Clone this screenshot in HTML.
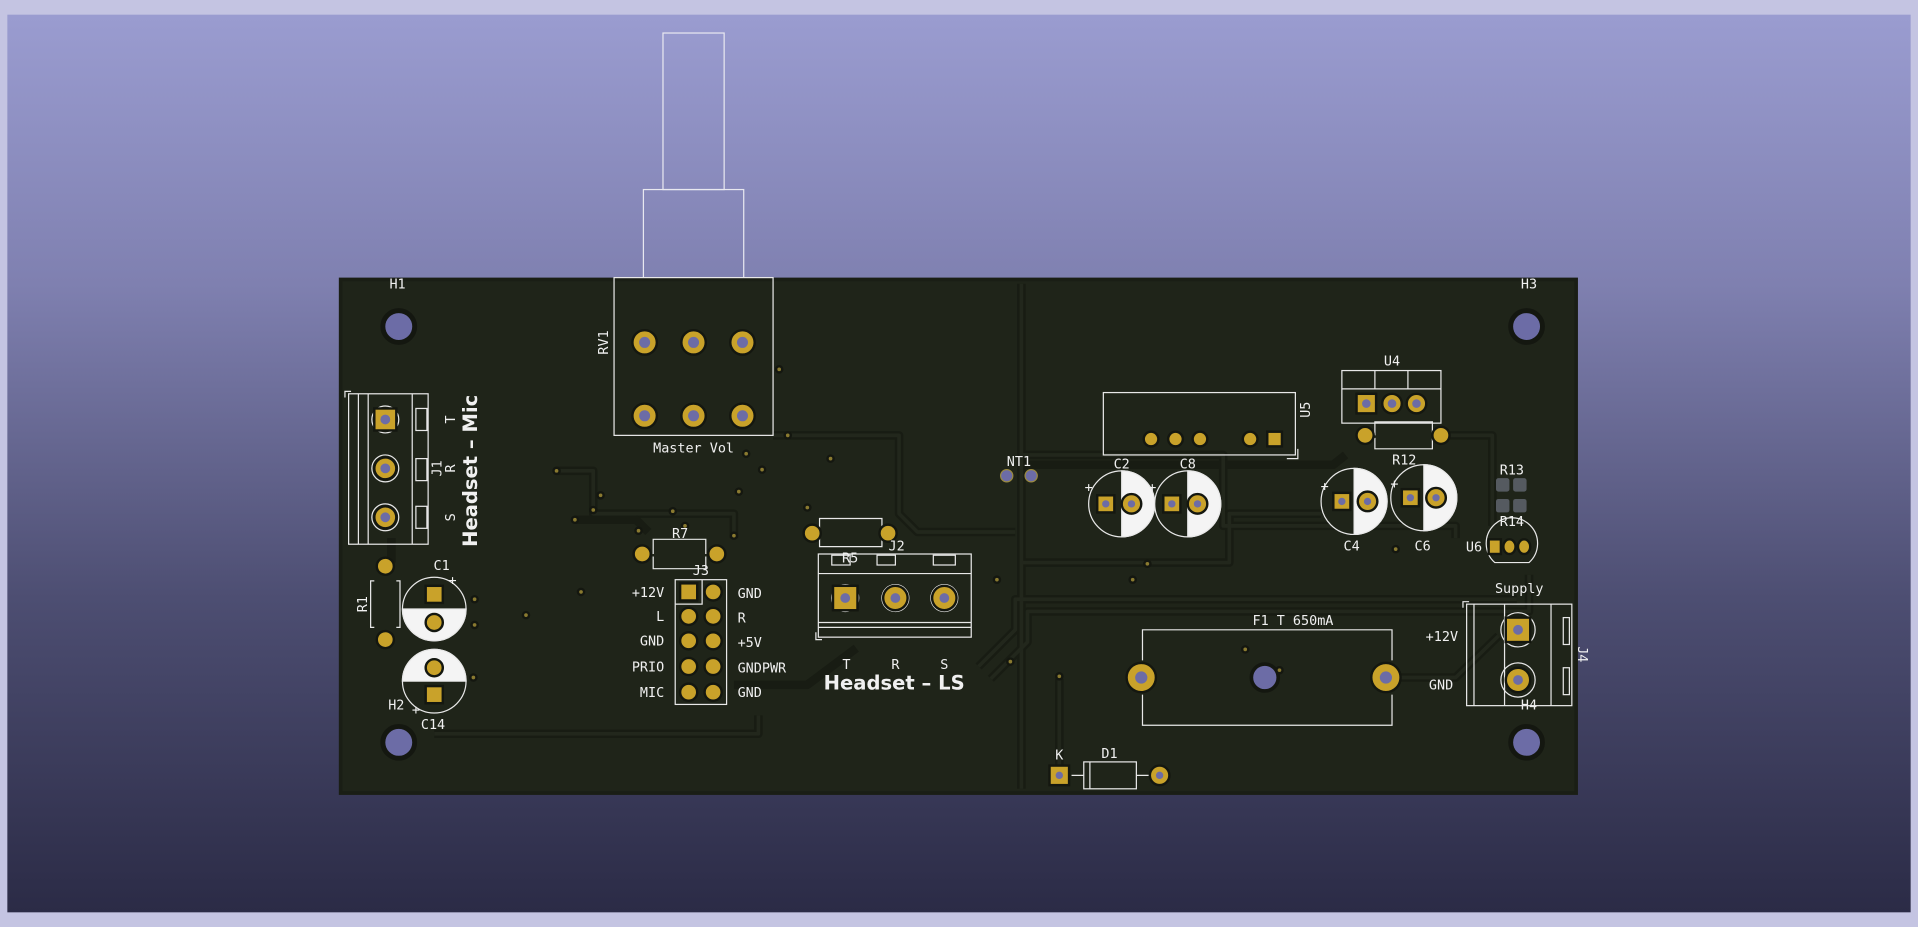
<!DOCTYPE html>
<html><head><meta charset="utf-8"><style>html,body{margin:0;padding:0;overflow:hidden;background:#2a2a45}svg{display:block}text{font-family:"DejaVu Sans Mono","Liberation Mono",monospace;fill:#f0f0f0}</style></head>
<body>
<svg width="1918" height="927" viewBox="0 0 1568 758" preserveAspectRatio="none" xmlns="http://www.w3.org/2000/svg">
<defs>
<linearGradient id="bg" x1="0" y1="0" x2="0" y2="1">
<stop offset="0" stop-color="#9a9cd0"/><stop offset="0.3" stop-color="#7f80b0"/><stop offset="0.65" stop-color="#4d4e72"/><stop offset="1" stop-color="#2b2b46"/>
</linearGradient>
</defs>
<rect x="0" y="0" width="1568" height="758" fill="#c4c4e2"/>
<rect x="6" y="12" width="1556" height="734" fill="url(#bg)"/>
<g fill="none" stroke="#e8e8f0" stroke-width="1">
<rect x="542" y="27" width="50" height="128"/>
<rect x="526" y="155" width="82" height="73"/>
</g>
<rect x="277" y="227" width="1013" height="423" fill="#1a1e15"/>
<rect x="280" y="230" width="1007" height="417" fill="#1f2419"/>
<g fill="none" stroke="#181c13" stroke-width="7" stroke-linejoin="round">
<path d="M835 232 V645"/>
<path d="M632 356 H735 V420 L750 435 H830"/>
<path d="M455 385 H485 V420 H600 V440"/>
<path d="M470 425 H520 L530 435"/>
<path d="M836 372 H1000 V430 H1190 V440"/>
<path d="M836 380 H1090 L1100 372"/>
<path d="M1178 356 H1220 V430"/>
<path d="M836 460 H1005 V420 H1080"/>
<path d="M800 545 L830 515 V490 H1240"/>
<path d="M810 555 L840 525 V500 H1250 V470"/>
<path d="M1133 554 H1190 L1225 520"/>
<path d="M866 555 V630"/>
<path d="M600 560 H660 L700 530"/>
<path d="M355 600 H620 V585"/>
<path d="M320 460 V440"/>
</g>
<g fill="none" stroke="#22271c" stroke-width="3" stroke-linejoin="round">
<path d="M835 232 V645"/>
<path d="M632 356 H735 V420 L750 435 H830"/>
<path d="M455 385 H485 V420 H600 V440"/>
<path d="M836 372 H1000 V430 H1190 V440"/>
<path d="M1178 356 H1220 V430"/>
<path d="M836 460 H1005 V420 H1080"/>
<path d="M800 545 L830 515 V490 H1240"/>
<path d="M810 555 L840 525 V500 H1250 V470"/>
<path d="M1133 554 H1190 L1225 520"/>
<path d="M866 555 V630"/>
<path d="M355 600 H620 V585"/>
</g>
<g fill="#6c6ca6" stroke="#141710" stroke-width="4">
<circle cx="326" cy="267" r="13"/><circle cx="326" cy="607" r="13"/>
<circle cx="1248" cy="267" r="13"/><circle cx="1248" cy="607" r="13"/>
</g>
<g text-anchor="middle" font-size="11">
<text x="325" y="236">H1</text><text x="1250" y="236">H3</text>
<text x="324" y="580">H2</text><text x="1250" y="580">H4</text>
</g>
<g fill="none" stroke="#e8e8e8" stroke-width="1">
<rect x="502" y="227" width="130" height="129"/>
<rect x="285" y="322" width="65" height="123"/><path d="M293 322V445M301 322V445M337 322V445M282 325V320H287"/>
<rect x="340" y="334" width="9" height="18"/><rect x="340" y="375" width="9" height="18"/><rect x="340" y="414" width="9" height="18"/>
<path d="M306 475H303V513H306M324 475H327V513H324"/>
<path d="M534 453V441H577V453M534 455V465H577V455"/>
<rect x="552" y="474" width="42" height="102"/><path d="M552 494H574V474"/>
<path d="M670 436V424H721V436M670 438V447H721V438"/>
<rect x="669" y="453" width="125" height="68"/><path d="M669 469H794M669 509H794M669 513H794M667 517V523H672"/>
<rect x="680" y="454" width="15" height="8"/><rect x="717" y="454" width="15" height="8"/><rect x="763" y="454" width="18" height="8"/>
<rect x="902" y="321" width="157" height="51"/><path d="M1052 375H1061V367"/>
<rect x="1097" y="303" width="81" height="43"/><path d="M1097 318H1178M1124 303V318M1151 303V318"/>
<path d="M1124 356V345H1171V356M1124 358V367H1171V358"/>
<path d="M1222 460 A21 21 0 1 1 1250 460Z"/>
<rect x="1199" y="494" width="86" height="83"/><path d="M1205 494V577M1230 494V577M1268 494V577M1196 497V492H1201"/>
<rect x="1278" y="505" width="5" height="22"/><rect x="1278" y="546" width="5" height="22"/>
<path d="M934 540V515H1138V540M934 568V593H1138V568"/>
<rect x="886" y="623" width="43" height="22"/><path d="M891 623V645M876 634H886M929 634H940"/>
</g>
<g stroke="#e8e8e8" stroke-width="1">
<circle cx="355" cy="498" r="26" fill="#1f2419"/><path d="M329 498H381A26 26 0 0 1 329 498Z" fill="#f4f4f4"/>
<circle cx="355" cy="557" r="26" fill="#1f2419"/><path d="M329 557H381A26 26 0 0 0 329 557Z" fill="#f4f4f4"/>
<circle cx="917" cy="412" r="27" fill="#1f2419"/><path d="M917 385V439A27 27 0 0 0 917 385Z" fill="#f4f4f4"/>
<circle cx="971" cy="412" r="27" fill="#1f2419"/><path d="M971 385V439A27 27 0 0 0 971 385Z" fill="#f4f4f4"/>
<circle cx="1107" cy="410" r="27" fill="#1f2419"/><path d="M1107 383V437A27 27 0 0 0 1107 383Z" fill="#f4f4f4"/>
<circle cx="1164" cy="407" r="27" fill="#1f2419"/><path d="M1164 380V434A27 27 0 0 0 1164 380Z" fill="#f4f4f4"/>
</g>
<g fill="none" stroke="#e8e8e8" stroke-width="1">
<circle cx="315" cy="343" r="11"/><circle cx="315" cy="383" r="11"/><circle cx="315" cy="423" r="11"/>
<circle cx="691" cy="489" r="11"/><circle cx="732" cy="489" r="11"/><circle cx="772" cy="489" r="11"/>
<circle cx="1241" cy="515" r="14"/><circle cx="1241" cy="556" r="14"/>
</g>
<g fill="#c9a22a" stroke="#141710" stroke-width="2">
<circle cx="527" cy="280" r="10"/><circle cx="567" cy="280" r="10"/><circle cx="607" cy="280" r="10"/>
<circle cx="527" cy="340" r="10"/><circle cx="567" cy="340" r="10"/><circle cx="607" cy="340" r="10"/>
<rect x="306" y="334" width="18" height="18"/><circle cx="315" cy="383" r="9"/><circle cx="315" cy="423" r="9"/>
<circle cx="315" cy="463" r="7"/><circle cx="315" cy="523" r="7"/>
<rect x="348" y="479" width="14" height="14"/><circle cx="355" cy="509" r="7"/>
<circle cx="355" cy="546" r="7"/><rect x="348" y="561" width="14" height="14"/>
<circle cx="525" cy="453" r="7"/><circle cx="586" cy="453" r="7"/>
<rect x="556" y="477" width="14" height="14"/><circle cx="583" cy="484" r="7"/>
<circle cx="563" cy="504" r="7"/><circle cx="583" cy="504" r="7"/>
<circle cx="563" cy="524" r="7"/><circle cx="583" cy="524" r="7"/>
<circle cx="563" cy="545" r="7"/><circle cx="583" cy="545" r="7"/>
<circle cx="563" cy="566" r="7"/><circle cx="583" cy="566" r="7"/>
<circle cx="664" cy="436" r="7"/><circle cx="726" cy="436" r="7"/>
<rect x="681" y="479" width="20" height="20"/><circle cx="732" cy="489" r="10"/><circle cx="772" cy="489" r="10"/>
<circle cx="941" cy="359" r="6"/><circle cx="961" cy="359" r="6"/><circle cx="981" cy="359" r="6"/><circle cx="1022" cy="359" r="6"/><rect x="1036" y="353" width="12" height="12"/>
<rect x="897" y="405" width="14" height="14"/><circle cx="925" cy="412" r="8"/>
<rect x="951" y="405" width="14" height="14"/><circle cx="979" cy="412" r="8"/>
<rect x="1109" y="322" width="16" height="16"/><circle cx="1138" cy="330" r="8"/><circle cx="1158" cy="330" r="8"/>
<circle cx="1116" cy="356" r="7"/><circle cx="1178" cy="356" r="7"/>
<rect x="1090" y="403" width="14" height="14"/><circle cx="1118" cy="410" r="8"/>
<rect x="1146" y="400" width="14" height="14"/><circle cx="1174" cy="407" r="8"/>
<rect x="1217" y="441" width="10" height="12"/><ellipse cx="1234" cy="447" rx="5" ry="6"/><ellipse cx="1246" cy="447" rx="5" ry="6"/>
<rect x="1231" y="505" width="20" height="20"/><circle cx="1241" cy="556" r="10"/>
<circle cx="933" cy="554" r="12"/><circle cx="1133" cy="554" r="12"/>
<rect x="858" y="626" width="16" height="16"/><circle cx="948" cy="634" r="8"/>
</g>
<g fill="#6c6ca6">
<circle cx="527" cy="280" r="4.5"/><circle cx="567" cy="280" r="4.5"/><circle cx="607" cy="280" r="4.5"/>
<circle cx="527" cy="340" r="4.5"/><circle cx="567" cy="340" r="4.5"/><circle cx="607" cy="340" r="4.5"/>
<circle cx="315" cy="343" r="4"/><circle cx="315" cy="383" r="4"/><circle cx="315" cy="423" r="4"/>
<circle cx="691" cy="489" r="4"/><circle cx="732" cy="489" r="4"/><circle cx="772" cy="489" r="4"/>
<circle cx="1241" cy="515" r="4"/><circle cx="1241" cy="556" r="4"/>
<circle cx="933" cy="554" r="5"/><circle cx="1133" cy="554" r="5"/>
<circle cx="1034" cy="554" r="11" stroke="#141710" stroke-width="3"/>
<circle cx="1117" cy="330" r="3.5"/><circle cx="1138" cy="330" r="3.5"/><circle cx="1158" cy="330" r="3.5"/>
<circle cx="904" cy="412" r="3"/><circle cx="925" cy="412" r="3"/><circle cx="958" cy="412" r="3"/><circle cx="979" cy="412" r="3"/>
<circle cx="1097" cy="410" r="3"/><circle cx="1118" cy="410" r="3"/><circle cx="1153" cy="407" r="3"/><circle cx="1174" cy="407" r="3"/>
<circle cx="866" cy="634" r="3"/><circle cx="948" cy="634" r="3"/>
<circle cx="823" cy="389" r="5" stroke="#9a8a40" stroke-width="1"/><circle cx="843" cy="389" r="5" stroke="#9a8a40" stroke-width="1"/>
</g>
<g fill="#555a60">
<rect x="1223" y="391" width="11" height="11" rx="2"/><rect x="1237" y="391" width="11" height="11" rx="2"/>
<rect x="1223" y="408" width="11" height="11" rx="2"/><rect x="1237" y="408" width="11" height="11" rx="2"/>
</g>
<g fill="#8a7a30" stroke="#141710" stroke-width="2">
<circle cx="455" cy="385" r="2.5"/><circle cx="470" cy="425" r="2.5"/><circle cx="485" cy="417" r="2.5"/><circle cx="491" cy="405" r="2.5"/>
<circle cx="550" cy="418" r="2.5"/><circle cx="560" cy="430" r="2.5"/><circle cx="600" cy="438" r="2.5"/><circle cx="522" cy="434" r="2.5"/>
<circle cx="604" cy="402" r="2.5"/><circle cx="623" cy="384" r="2.5"/><circle cx="679" cy="375" r="2.5"/><circle cx="660" cy="415" r="2.5"/>
<circle cx="610" cy="371" r="2.5"/><circle cx="637" cy="302" r="2.5"/><circle cx="644" cy="356" r="2.5"/><circle cx="430" cy="503" r="2.5"/>
<circle cx="475" cy="484" r="2.5"/><circle cx="388" cy="490" r="2.5"/><circle cx="388" cy="511" r="2.5"/><circle cx="387" cy="554" r="2.5"/>
<circle cx="815" cy="474" r="2.5"/><circle cx="826" cy="541" r="2.5"/><circle cx="866" cy="553" r="2.5"/><circle cx="1018" cy="531" r="2.5"/>
<circle cx="926" cy="474" r="2.5"/><circle cx="1141" cy="449" r="2.5"/><circle cx="938" cy="461" r="2.5"/><circle cx="1046" cy="548" r="2.5"/>
</g>
<g font-size="11" text-anchor="middle">
<text x="567" y="370">Master Vol</text>
<text transform="translate(497,280) rotate(-90)">RV1</text>
<text transform="translate(372,343) rotate(-90)">T</text>
<text transform="translate(372,383) rotate(-90)">R</text>
<text transform="translate(372,423) rotate(-90)">S</text>
<text transform="translate(361,383) rotate(-90)">J1</text>
<text transform="translate(300,494) rotate(-90)">R1</text>
<text x="361" y="466">C1</text><text x="370" y="478">+</text>
<text x="340" y="584">+</text><text x="354" y="596">C14</text>
<text x="556" y="440">R7</text><text x="573" y="470">J3</text>
<text x="695" y="460">R5</text><text x="733" y="450">J2</text>
<text x="692" y="547">T</text><text x="732" y="547">R</text><text x="772" y="547">S</text>
<text x="833" y="381">NT1</text>
<text transform="translate(1071,335) rotate(-90)">U5</text>
<text x="917" y="383">C2</text><text x="971" y="383">C8</text>
<text x="890" y="402">+</text><text x="942" y="402">+</text>
<text x="1138" y="299">U4</text><text x="1148" y="380">R12</text>
<text x="1105" y="450">C4</text><text x="1163" y="450">C6</text>
<text x="1083" y="401">+</text><text x="1140" y="399">+</text>
<text x="1236" y="388">R13</text><text x="1236" y="430">R14</text>
<text x="1205" y="451">U6</text>
<text x="1242" y="485">Supply</text>
<text transform="translate(1290,535) rotate(90)">J4</text>
<text x="1057" y="511">F1  T 650mA</text>
<text x="866" y="621">K</text><text x="907" y="620">D1</text>
</g>
<g font-size="11" text-anchor="end">
<text x="543" y="488">+12V</text><text x="543" y="508">L</text><text x="543" y="528">GND</text><text x="543" y="549">PRIO</text><text x="543" y="570">MIC</text>
<text x="1192" y="524">+12V</text><text x="1188" y="564">GND</text>
</g>
<g font-size="11">
<text x="603" y="489">GND</text><text x="603" y="509">R</text><text x="603" y="529">+5V</text><text x="603" y="550">GNDPWR</text><text x="603" y="570">GND</text>
</g>
<g font-size="16" font-weight="bold" text-anchor="middle">
<text x="731" y="564" style="font-family:'DejaVu Sans',sans-serif">Headset – LS</text>
<text transform="translate(390,385) rotate(-90)" style="font-family:'DejaVu Sans',sans-serif">Headset – Mic</text>
</g>
</svg>
</body></html>
